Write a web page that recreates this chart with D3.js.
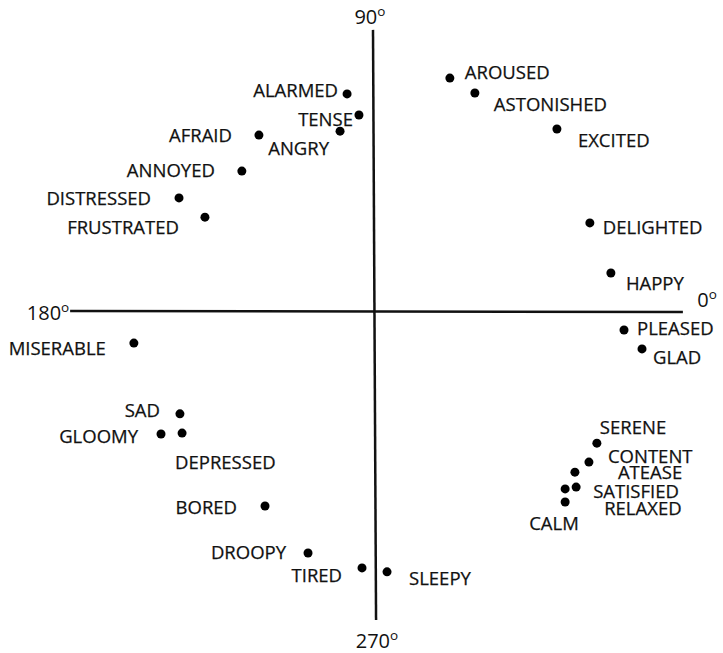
<!DOCTYPE html>
<html>
<head>
<meta charset="utf-8">
<script src="https://cdn.jsdelivr.net/npm/d3@7"></script>
<style>
  body { margin: 0; background: #fff; }
  text { font-family: "Open Sans", sans-serif; fill: #111; }
</style>
</head>
<body>
<div id="chart"></div>
<script>
// circumplex: valence (x) / arousal (y), both roughly -1..1
const words = ['ALARMED', 'TENSE', 'ANGRY', 'AFRAID', 'ANNOYED', 'DISTRESSED', 'FRUSTRATED',
    'AROUSED', 'ASTONISHED', 'EXCITED', 'DELIGHTED', 'HAPPY', 'PLEASED', 'GLAD',
    'SERENE', 'CONTENT', 'ATEASE', 'SATISFIED', 'RELAXED', 'CALM',
    'MISERABLE', 'SAD', 'GLOOMY', 'DEPRESSED', 'BORED', 'DROOPY', 'TIRED', 'SLEEPY'];
const valence = [-0.085, -0.046, -0.108, -0.374, -0.430, -0.636, -0.551,
    0.252, 0.334, 0.603, 0.711, 0.780, 0.823, 0.882,
    0.734, 0.708, 0.662, 0.666, 0.630, 0.630,
    -0.784, -0.633, -0.695, -0.626, -0.354, -0.213, -0.036, 0.046];
const arousal = [0.715, 0.646, 0.593, 0.580, 0.462, 0.374, 0.311,
    0.767, 0.718, 0.600, 0.292, 0.128, -0.059, -0.121,
    -0.430, -0.492, -0.525, -0.574, -0.580, -0.623,
    -0.102, -0.334, -0.400, -0.397, -0.636, -0.790, -0.839, -0.852];
const degreeLabels = ['0', '90', '180', '270'];

// label placement relative to its dot (dx, dy, anchor)
const labelPos = {
    ALARMED: [-9, -4, 'end'], TENSE: [-6, 4, 'end'], ANGRY: [-11, 17, 'end'],
    AFRAID: [-27, 0, 'end'], ANNOYED: [-27, -1, 'end'], DISTRESSED: [-28, 0, 'end'],
    FRUSTRATED: [-26, 10, 'end'],
    AROUSED: [15, -6, 'start'], ASTONISHED: [19, 11, 'start'], EXCITED: [21, 11, 'start'],
    DELIGHTED: [13, 4, 'start'], HAPPY: [15, 10, 'start'], PLEASED: [13, -2, 'start'],
    GLAD: [11, 8, 'start'],
    SERENE: [3, -16, 'start'], CONTENT: [19, -6, 'start'], ATEASE: [43, 0, 'start'],
    SATISFIED: [17, 4, 'start'], RELAXED: [39, 19, 'start'], CALM: [-36, 21, 'start'],
    MISERABLE: [-28, 5, 'end'], SAD: [-20, -4, 'end'], GLOOMY: [-23, 2, 'end'],
    DEPRESSED: [-7, 29, 'start'], BORED: [-28, 1, 'end'], DROOPY: [-22, -1, 'end'],
    TIRED: [-20, 7, 'end'], SLEEPY: [22, 6, 'start']
};

const width = 723;
const height = 653;
const cx = 373, cy = 312, unit = 305;

const x = d3.scaleLinear().domain([-1, 1]).range([cx - unit, cx + unit]);
const y = d3.scaleLinear().domain([-1, 1]).range([cy + unit, cy - unit]);

const svg = d3.select('#chart')
    .append('svg')
    .attr('width', width)
    .attr('height', height);

// axes
svg.append('line')
    .attr('x1', x(-0.993)).attr('y1', y(0.003))
    .attr('x2', x(1.016)).attr('y2', y(0))
    .attr('stroke', '#111').attr('stroke-width', 2.5);
svg.append('line')
    .attr('x1', x(0)).attr('y1', y(0.925))
    .attr('x2', x(0.01)).attr('y2', y(-1.01))
    .attr('stroke', '#111').attr('stroke-width', 2.5);

// degree labels (0, 90, 180, 270)
const degPos = [
    { x: x(1.063), y: y(0.016), anchor: 'start' },
    { x: x(-0.01), y: y(0.944), anchor: 'middle' },
    { x: x(-0.996), y: y(-0.026), anchor: 'end' },
    { x: x(0.013), y: y(-1.101), anchor: 'middle' }
];
degreeLabels.forEach((lab, i) => {
    const t = svg.append('text')
        .attr('x', degPos[i].x)
        .attr('y', degPos[i].y)
        .attr('text-anchor', degPos[i].anchor)
        .style('font-size', '20px');
    t.append('tspan').text(lab);
    t.append('tspan').text('o')
        .attr('dy', -8)
        .style('font-size', '13.5px');
});

const points = words.map((w, i) => ({ word: w, v: valence[i], a: arousal[i] }));

svg.selectAll('.dot')
    .data(points)
    .enter()
    .append('circle')
    .attr('class', 'dot')
    .attr('cx', d => x(d.v))
    .attr('cy', d => y(d.a))
    .attr('r', 4.5)
    .attr('fill', '#000');

svg.selectAll('.lbl')
    .data(points)
    .enter()
    .append('text')
    .attr('class', 'lbl')
    .attr('x', d => x(d.v) + labelPos[d.word][0])
    .attr('y', d => y(d.a) + labelPos[d.word][1])
    .attr('dy', '0.36em')
    .attr('text-anchor', d => labelPos[d.word][2])
    .style('font-size', '18.5px')
    .style('stroke', '#111')
    .style('stroke-width', 0.25)
    .text(d => d.word);
</script>
</body>
</html>
